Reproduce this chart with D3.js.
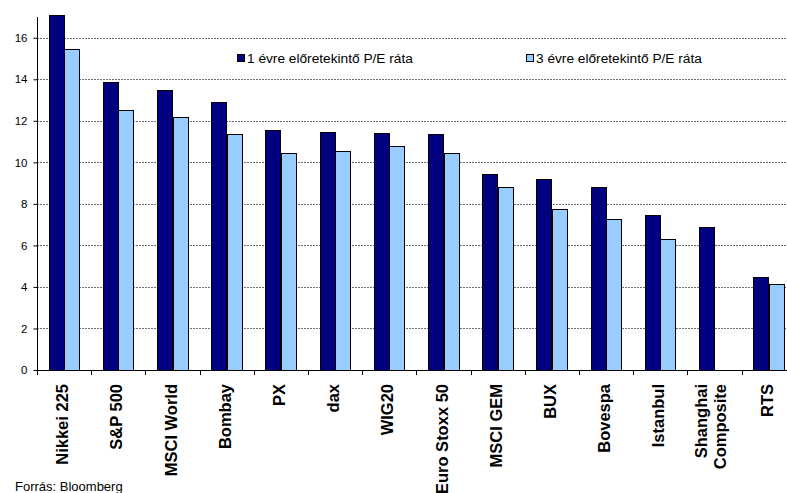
<!DOCTYPE html>
<html>
<head>
<meta charset="utf-8">
<script src="https://cdn.jsdelivr.net/npm/d3@7"></script>
<style>
  html, body { margin: 0; padding: 0; background: #fff; }
  svg { display: block; font-family: "Liberation Sans", Arial, sans-serif; }
</style>
</head>
<body>
<svg id="chart" width="787" height="493"></svg>
<script>
const categories = ["Nikkei 225", "S&P 500", "MSCI World", "Bombay", "PX", "dax", "WIG20",
  "Euro Stoxx 50", "MSCI GEM", "BUX", "Bovespa", "Istanbul", "Shanghai\nComposite", "RTS"];
const seriesNames = ["1 évre előretekintő P/E ráta", "3 évre előretekintő P/E ráta"];
const pe1 = [17.1, 13.88, 13.49, 12.9, 11.54, 11.48, 11.42, 11.38, 9.45, 9.21, 8.81, 7.46, 6.88, 4.49];
const pe3 = [15.48, 12.53, 12.19, 11.37, 10.45, 10.55, 10.77, 10.47, 8.8, 7.73, 7.28, 6.29, null, 4.16];
const yTicks = [0, 2, 4, 6, 8, 10, 12, 14, 16];
const sourceText = "Forrás: Bloomberg";

const colors = ["#000080", "#99CCFF"];
const svg = d3.select("#chart");
const margin = { left: 37, top: 17, bottom: 370 };
const plotRight = 37 + 14 * 54.2;

const x = d3.scaleBand().domain(categories).range([margin.left, plotRight]).paddingInner(0).paddingOuter(0);
const bw = x.bandwidth();
const sub = d3.scaleBand().domain([0, 1]).range([0, bw]).paddingInner(0).paddingOuter(0.75);
const y = d3.scaleLinear().domain([0, 17]).range([margin.bottom, margin.top]);

// gridlines
svg.append("g").selectAll("line").data(yTicks.filter(d => d > 0)).join("line")
  .attr("x1", margin.left).attr("x2", 787)
  .attr("y1", d => Math.round(y(d)) + 0.5).attr("y2", d => Math.round(y(d)) + 0.5)
  .attr("stroke", "#6e6e6e").attr("stroke-width", 1).attr("stroke-dasharray", "2,1");

// bars
const series = [pe1, pe3];
series.forEach((vals, si) => {
  svg.append("g").selectAll("rect").data(categories.map((c, i) => ({ c, v: vals[i] })).filter(d => d.v != null))
    .join("rect")
    .attr("x", d => Math.round(x(d.c) + sub(si)) + 0.5)
    .attr("y", d => Math.round(y(d.v)) + 0.5)
    .attr("width", Math.round(sub.bandwidth()))
    .attr("height", d => Math.round(y(0)) - Math.round(y(d.v)))
    .attr("fill", colors[si])
    .attr("stroke", "#000").attr("stroke-width", 1);
});

// y axis
const yAxis = svg.append("g").attr("transform", `translate(${margin.left + 0.5},0)`)
  .call(d3.axisLeft(y).tickValues(yTicks).tickSize(4).tickPadding(6).tickFormat(d3.format("d")));
yAxis.select(".domain").attr("d", `M0,${margin.top}V${margin.bottom}`).attr("stroke", "#000");
yAxis.selectAll(".tick line").attr("stroke", "#000");
yAxis.selectAll(".tick text").attr("font-size", "11.5px").attr("fill", "#000")
  .attr("font-family", "Liberation Sans, Arial, sans-serif");

// x axis line + ticks
const xg = svg.append("g");
xg.append("line").attr("x1", margin.left).attr("x2", 787)
  .attr("y1", margin.bottom + 0.5).attr("y2", margin.bottom + 0.5).attr("stroke", "#000");
xg.selectAll("line.t").data(d3.range(categories.length + 1)).join("line").attr("class", "t")
  .attr("x1", i => Math.round(margin.left + i * bw) + 0.5).attr("x2", i => Math.round(margin.left + i * bw) + 0.5)
  .attr("y1", margin.bottom).attr("y2", margin.bottom + 5).attr("stroke", "#000");

// category labels
categories.forEach(c => {
  const cx = x(c) + bw / 2;
  const lines = c.split("\n");
  const t = svg.append("text")
    .attr("transform", `translate(${cx},384) rotate(-90)`)
    .attr("text-anchor", "end")
    .attr("font-size", "16.5px").attr("font-weight", "bold").attr("fill", "#000");
  if (lines.length === 1) {
    t.append("tspan").attr("x", 0).attr("dy", "0.25em").text(lines[0]);
  } else {
    lines.forEach((l, i) => t.append("tspan").attr("x", 0).attr("dy", i === 0 ? "-0.46em" : "1.18em").text(l));
  }
});

// legend
const legendX = [237, 526];
seriesNames.forEach((n, i) => {
  svg.append("rect").attr("x", legendX[i] + 0.5).attr("y", 54.5).attr("width", 7).attr("height", 7)
    .attr("fill", colors[i]).attr("stroke", "#000");
  svg.append("text").attr("x", legendX[i] + 10).attr("y", 58).attr("dy", "0.35em")
    .attr("font-size", "13.7px").attr("fill", "#000").text(n);
});

// source
svg.append("text").attr("x", 15).attr("y", 491).attr("font-size", "13px").attr("fill", "#000").text(sourceText);
</script>
</body>
</html>
